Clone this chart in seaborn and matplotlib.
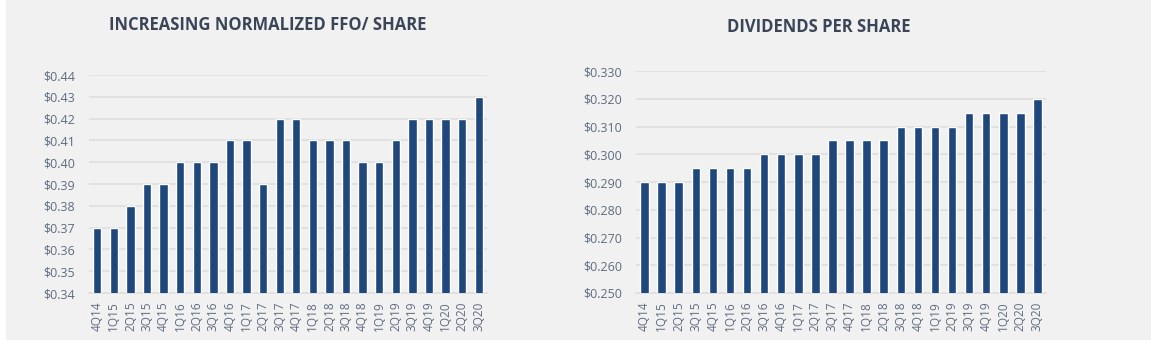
import matplotlib
matplotlib.use("Agg")
import matplotlib.pyplot as plt
from matplotlib.patches import Rectangle
from matplotlib.ticker import FuncFormatter, MultipleLocator
import pandas as pd
import seaborn as sns

quarters = ["4Q14", "1Q15", "2Q15", "3Q15", "4Q15", "1Q16", "2Q16", "3Q16",
            "4Q16", "1Q17", "2Q17", "3Q17", "4Q17", "1Q18", "2Q18", "3Q18",
            "4Q18", "1Q19", "2Q19", "3Q19", "4Q19", "1Q20", "2Q20", "3Q20"]
ffo_per_share = [0.37, 0.37, 0.38, 0.39, 0.39, 0.40, 0.40, 0.40,
                 0.41, 0.41, 0.39, 0.42, 0.42, 0.41, 0.41, 0.41,
                 0.40, 0.40, 0.41, 0.42, 0.42, 0.42, 0.42, 0.43]
dividends_per_share = [0.290, 0.290, 0.290, 0.295, 0.295, 0.295, 0.295, 0.300,
                       0.300, 0.300, 0.300, 0.305, 0.305, 0.305, 0.305, 0.310,
                       0.310, 0.310, 0.310, 0.315, 0.315, 0.315, 0.315, 0.320]

sns.set_theme(style="white")
plt.rcParams["font.family"] = ["Open Sans", "DejaVu Sans"]

BAR = "#1f477b"
PANEL = "#f1f1f1"
TICK = "#5e6c80"
TITLE = "#3a4557"
GRID = "#dedede"

fig = plt.figure(figsize=(11.51, 3.46), dpi=100)
fig.patch.set_facecolor("white")
fig.patches.append(Rectangle((6 / 1151, 6 / 346), 1 - 6 / 1151, 1 - 6 / 346,
                             transform=fig.transFigure, facecolor=PANEL,
                             edgecolor="none", zorder=-10))

ax1 = fig.add_axes([89 / 1151, 1 - 293 / 346, 398 / 1151, 218 / 346])
ax2 = fig.add_axes([636 / 1151, 1 - 293 / 346, 410 / 1151, 222 / 346])

df_ffo = pd.DataFrame({"quarter": quarters, "value": ffo_per_share})
df_div = pd.DataFrame({"quarter": quarters, "value": dividends_per_share})

sns.barplot(data=df_ffo, x="quarter", y="value", color=BAR, saturation=1,
            width=0.5, ax=ax1, zorder=3)
sns.barplot(data=df_div, x="quarter", y="value", color=BAR, saturation=1,
            width=0.5, ax=ax2, zorder=3)

panels = [
    (ax1, 0.34, 0.44, 0.01, "${:.2f}"),
    (ax2, 0.25, 0.33, 0.01, "${:.3f}"),
]
for ax, lo, hi, step, fmt in panels:
    ax.set_facecolor("none")
    ax.set_ylim(lo, hi + 1e-9)
    ax.set_xlim(-0.5, len(quarters) - 0.5)
    ax.yaxis.set_major_locator(MultipleLocator(step))
    ax.yaxis.set_major_formatter(FuncFormatter(lambda v, _p, f=fmt: f.format(v)))
    ax.grid(axis="y", color=GRID, linewidth=1.2, zorder=0)
    ax.set_axisbelow(True)
    for side in ("top", "right", "left"):
        ax.spines[side].set_visible(False)
    ax.spines["bottom"].set_color(GRID)
    ax.spines["bottom"].set_linewidth(1.2)
    ax.set_xlabel("")
    ax.set_ylabel("")
    ax.tick_params(axis="x", labelrotation=90, labelsize=8.5, colors=TICK,
                   length=0, pad=6)
    ax.tick_params(axis="y", labelsize=9, colors=TICK, length=0, pad=10)

fig.text(268 / 1151, 1 - 25 / 346, "INCREASING NORMALIZED FFO/ SHARE",
         ha="center", va="center", fontsize=12, fontweight="bold",
         color=TITLE)
fig.text(819 / 1151, 1 - 27 / 346, "DIVIDENDS PER SHARE",
         ha="center", va="center", fontsize=12, fontweight="bold",
         color=TITLE)

fig.savefig("out.png", dpi=100, facecolor=fig.get_facecolor())
